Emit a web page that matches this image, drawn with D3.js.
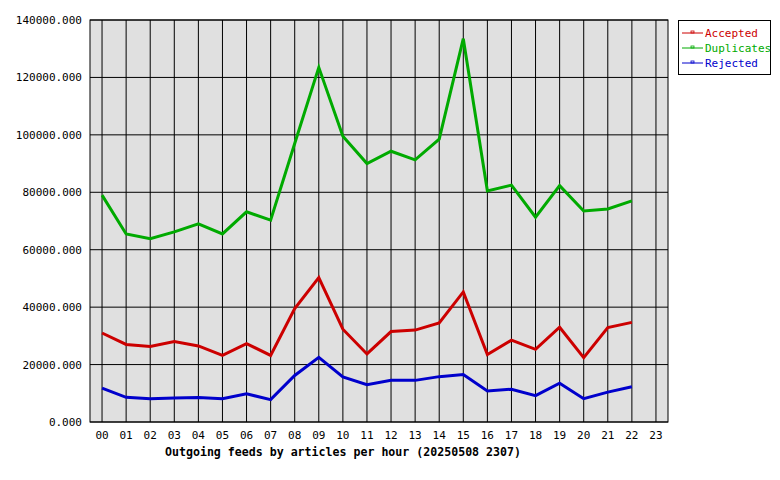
<!DOCTYPE html><html><head><script src="https://cdn.jsdelivr.net/npm/d3@7"></script>
<style>body{margin:0;background:#fff}text{font-family:"DejaVu Sans Mono",monospace;font-size:11px}</style></head><body>
<svg id="c" width="780" height="480"></svg>
<script>
const hours=d3.range(24).map(i=>String(i).padStart(2,"0"));
const yTicks=[0,20000,40000,60000,80000,100000,120000,140000];
const accepted=[31000,27000,26300,28000,26500,23200,27300,23200,39500,50300,32300,23700,31500,32000,34500,45300,23500,28500,25300,33000,22400,32900,34700];
const duplicates=[79000,65500,63800,66200,69000,65500,73200,70300,97000,123500,99500,90000,94300,91300,98500,133500,80500,82500,71300,82300,73500,74200,77000];
const rejected=[11800,8600,8100,8400,8500,8100,9800,7800,16200,22500,15700,13000,14500,14500,15800,16500,10800,11400,9200,13500,8100,10400,12300];
const series=[{n:"Accepted",v:accepted,c:"#cc0000"},{n:"Duplicates",v:duplicates,c:"#00aa00"},{n:"Rejected",v:rejected,c:"#0000cc"}];
const L=90,R=668,T=20,B=422;
const svg=d3.select("#c");
const x=d3.scaleBand().domain(hours).range([L,R]);
const y=d3.scaleLinear().domain([0,140000]).range([B,T]);
const cx=h=>x(h)+x.bandwidth()/2;
svg.append("rect").attr("x",L).attr("y",T).attr("width",R-L).attr("height",B-T).attr("fill","#e0e0e0");
svg.selectAll(".vg").data(hours).join("line").attr("x1",cx).attr("x2",cx).attr("y1",T).attr("y2",B).attr("stroke","#000");
svg.selectAll(".hg").data(yTicks).join("line").attr("x1",L).attr("x2",R).attr("y1",d=>y(d)).attr("y2",d=>y(d)).attr("stroke","#000");
svg.append("rect").attr("x",L).attr("y",T).attr("width",R-L).attr("height",B-T).attr("fill","none").attr("stroke","#000");
svg.selectAll(".yl").data(yTicks).join("text").attr("x",L-8).attr("y",d=>y(d)+4).attr("text-anchor","end").text(d=>d+".000");
svg.selectAll(".xl").data(hours).join("text").attr("x",cx).attr("y",B+17).attr("text-anchor","middle").text(d=>d);
svg.append("text").attr("x",343).attr("y",456).attr("text-anchor","middle").attr("font-weight","bold").style("font-size","11.6px").text("Outgoing feeds by articles per hour (20250508 2307)");
const line=d3.line().x((d,i)=>cx(hours[i])).y(d=>y(d));
series.forEach(s=>svg.append("path").attr("d",line(s.v)).attr("fill","none").attr("stroke",s.c).attr("stroke-width",3));
svg.append("rect").attr("x",678.5).attr("y",20.5).attr("width",92).attr("height",54).attr("fill","#fff").attr("stroke","#000");
series.forEach((s,i)=>{const yy=33+i*15;
svg.append("line").attr("x1",682).attr("x2",703).attr("y1",yy).attr("y2",yy).attr("stroke",s.c);
svg.append("rect").attr("x",691).attr("y",yy-2).attr("width",3).attr("height",2).attr("fill","none").attr("stroke",s.c).attr("stroke-width",0.8);
svg.append("text").attr("x",705).attr("y",yy+4).attr("fill",s.c).text(s.n);});
</script></body></html>
